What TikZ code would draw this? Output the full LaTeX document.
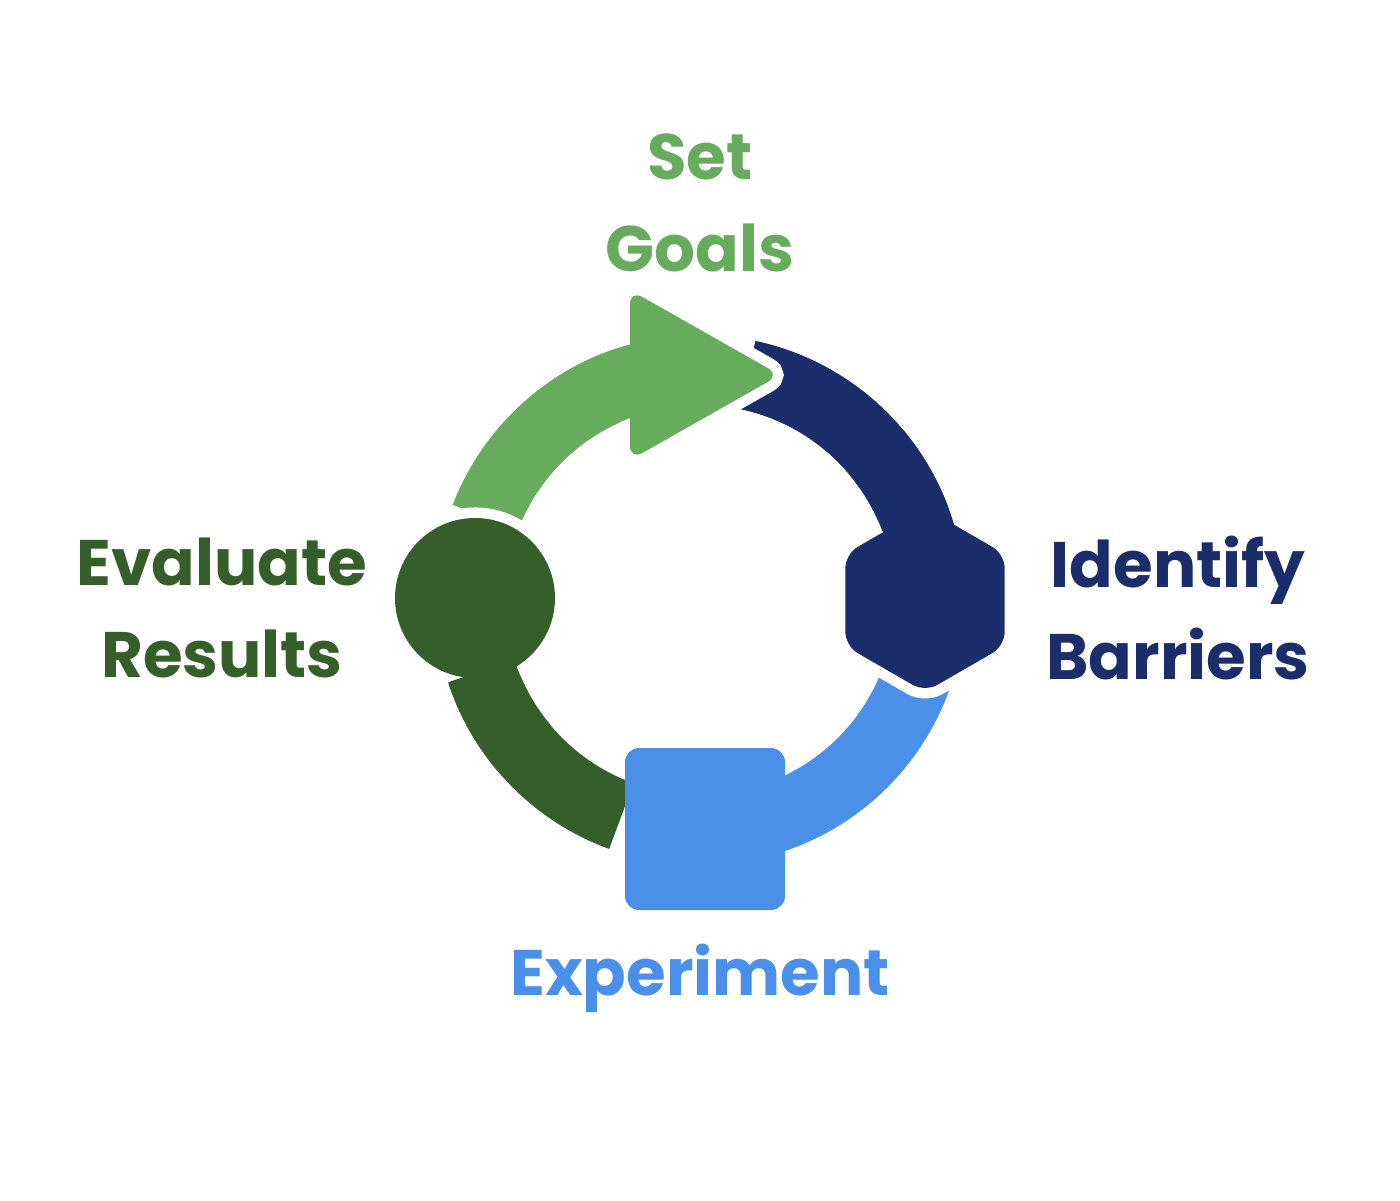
\documentclass[tikz,border=0pt]{standalone}
\usepackage{fontspec}
\setmainfont{Poppins}
\usetikzlibrary{shapes.geometric}
\definecolor{goalgreen}{HTML}{67AB5D}
\definecolor{barblue}{HTML}{1B2D6B}
\definecolor{expblue}{HTML}{4A90E8}
\definecolor{evalgreen}{HTML}{355E2B}
\tikzset{
  ring/.style={line width=0.7cm},
  cut/.style={draw=white, fill=white, line width=6pt},
  hexa/.style={regular polygon, regular polygon sides=6, minimum size=1.84cm,
    inner sep=0pt, shape border rotate=30, rounded corners=4pt},
  lbl/.style={font=\bfseries\fontsize{18.3}{26}\selectfont, align=center}
}
\newcommand\arrowtri{(6.3,9.1) -- (7.8,8.25) -- (6.3,7.4) -- cycle}
\newcommand\expsquare{(6.25,4.52) rectangle (7.85,2.9)}
\newcommand\evalcircle{(4.75,6.02) circle (0.8)}
\begin{document}
\begin{tikzpicture}
\useasboundingbox (0,0) rectangle (14,12);
\coordinate (c) at (7,6);
% ring pieces
\draw[ring, goalgreen] (c) ++(159:2.3) arc (159:100:2.3);
\draw[ring, barblue] (c) ++(78:2.3) arc (78:15:2.3);
\draw[ring, expblue] (c) ++(-20:2.3) arc (-20:-72:2.3);
\draw[ring, evalgreen] (c) ++(-110:2.3) arc (-110:-162:2.3);
% white gaps round the end shapes
\filldraw[cut, rounded corners=4pt] \arrowtri;
\node[hexa, cut] (hexcut) at (9.25,6) {};
\filldraw[cut] \evalcircle;
% own arcs again, then the shapes
\draw[ring, goalgreen] (c) ++(125:2.3) arc (125:100:2.3);
\draw[ring, barblue] (c) ++(40:2.3) arc (40:15:2.3);
\draw[ring, evalgreen] (c) ++(-140:2.3) arc (-140:-162:2.3);
\fill[goalgreen, rounded corners=4pt] \arrowtri;
\node[hexa, fill=barblue] (hex) at (9.25,6) {};
\fill[expblue, rounded corners=4pt] \expsquare;
\fill[evalgreen] \evalcircle;
% labels
\node[lbl, text=goalgreen] (goals) at (7,9.97) {Set\\Goals};
\node[lbl, text=barblue] (barriers) at (11.78,5.92) {Identify\\Barriers};
\node[lbl, text=expblue] (experiment) at (7,2.22) {Experiment};
\node[lbl, text=evalgreen] (results) at (2.22,5.92) {Evaluate\\Results};
\end{tikzpicture}
\end{document}
